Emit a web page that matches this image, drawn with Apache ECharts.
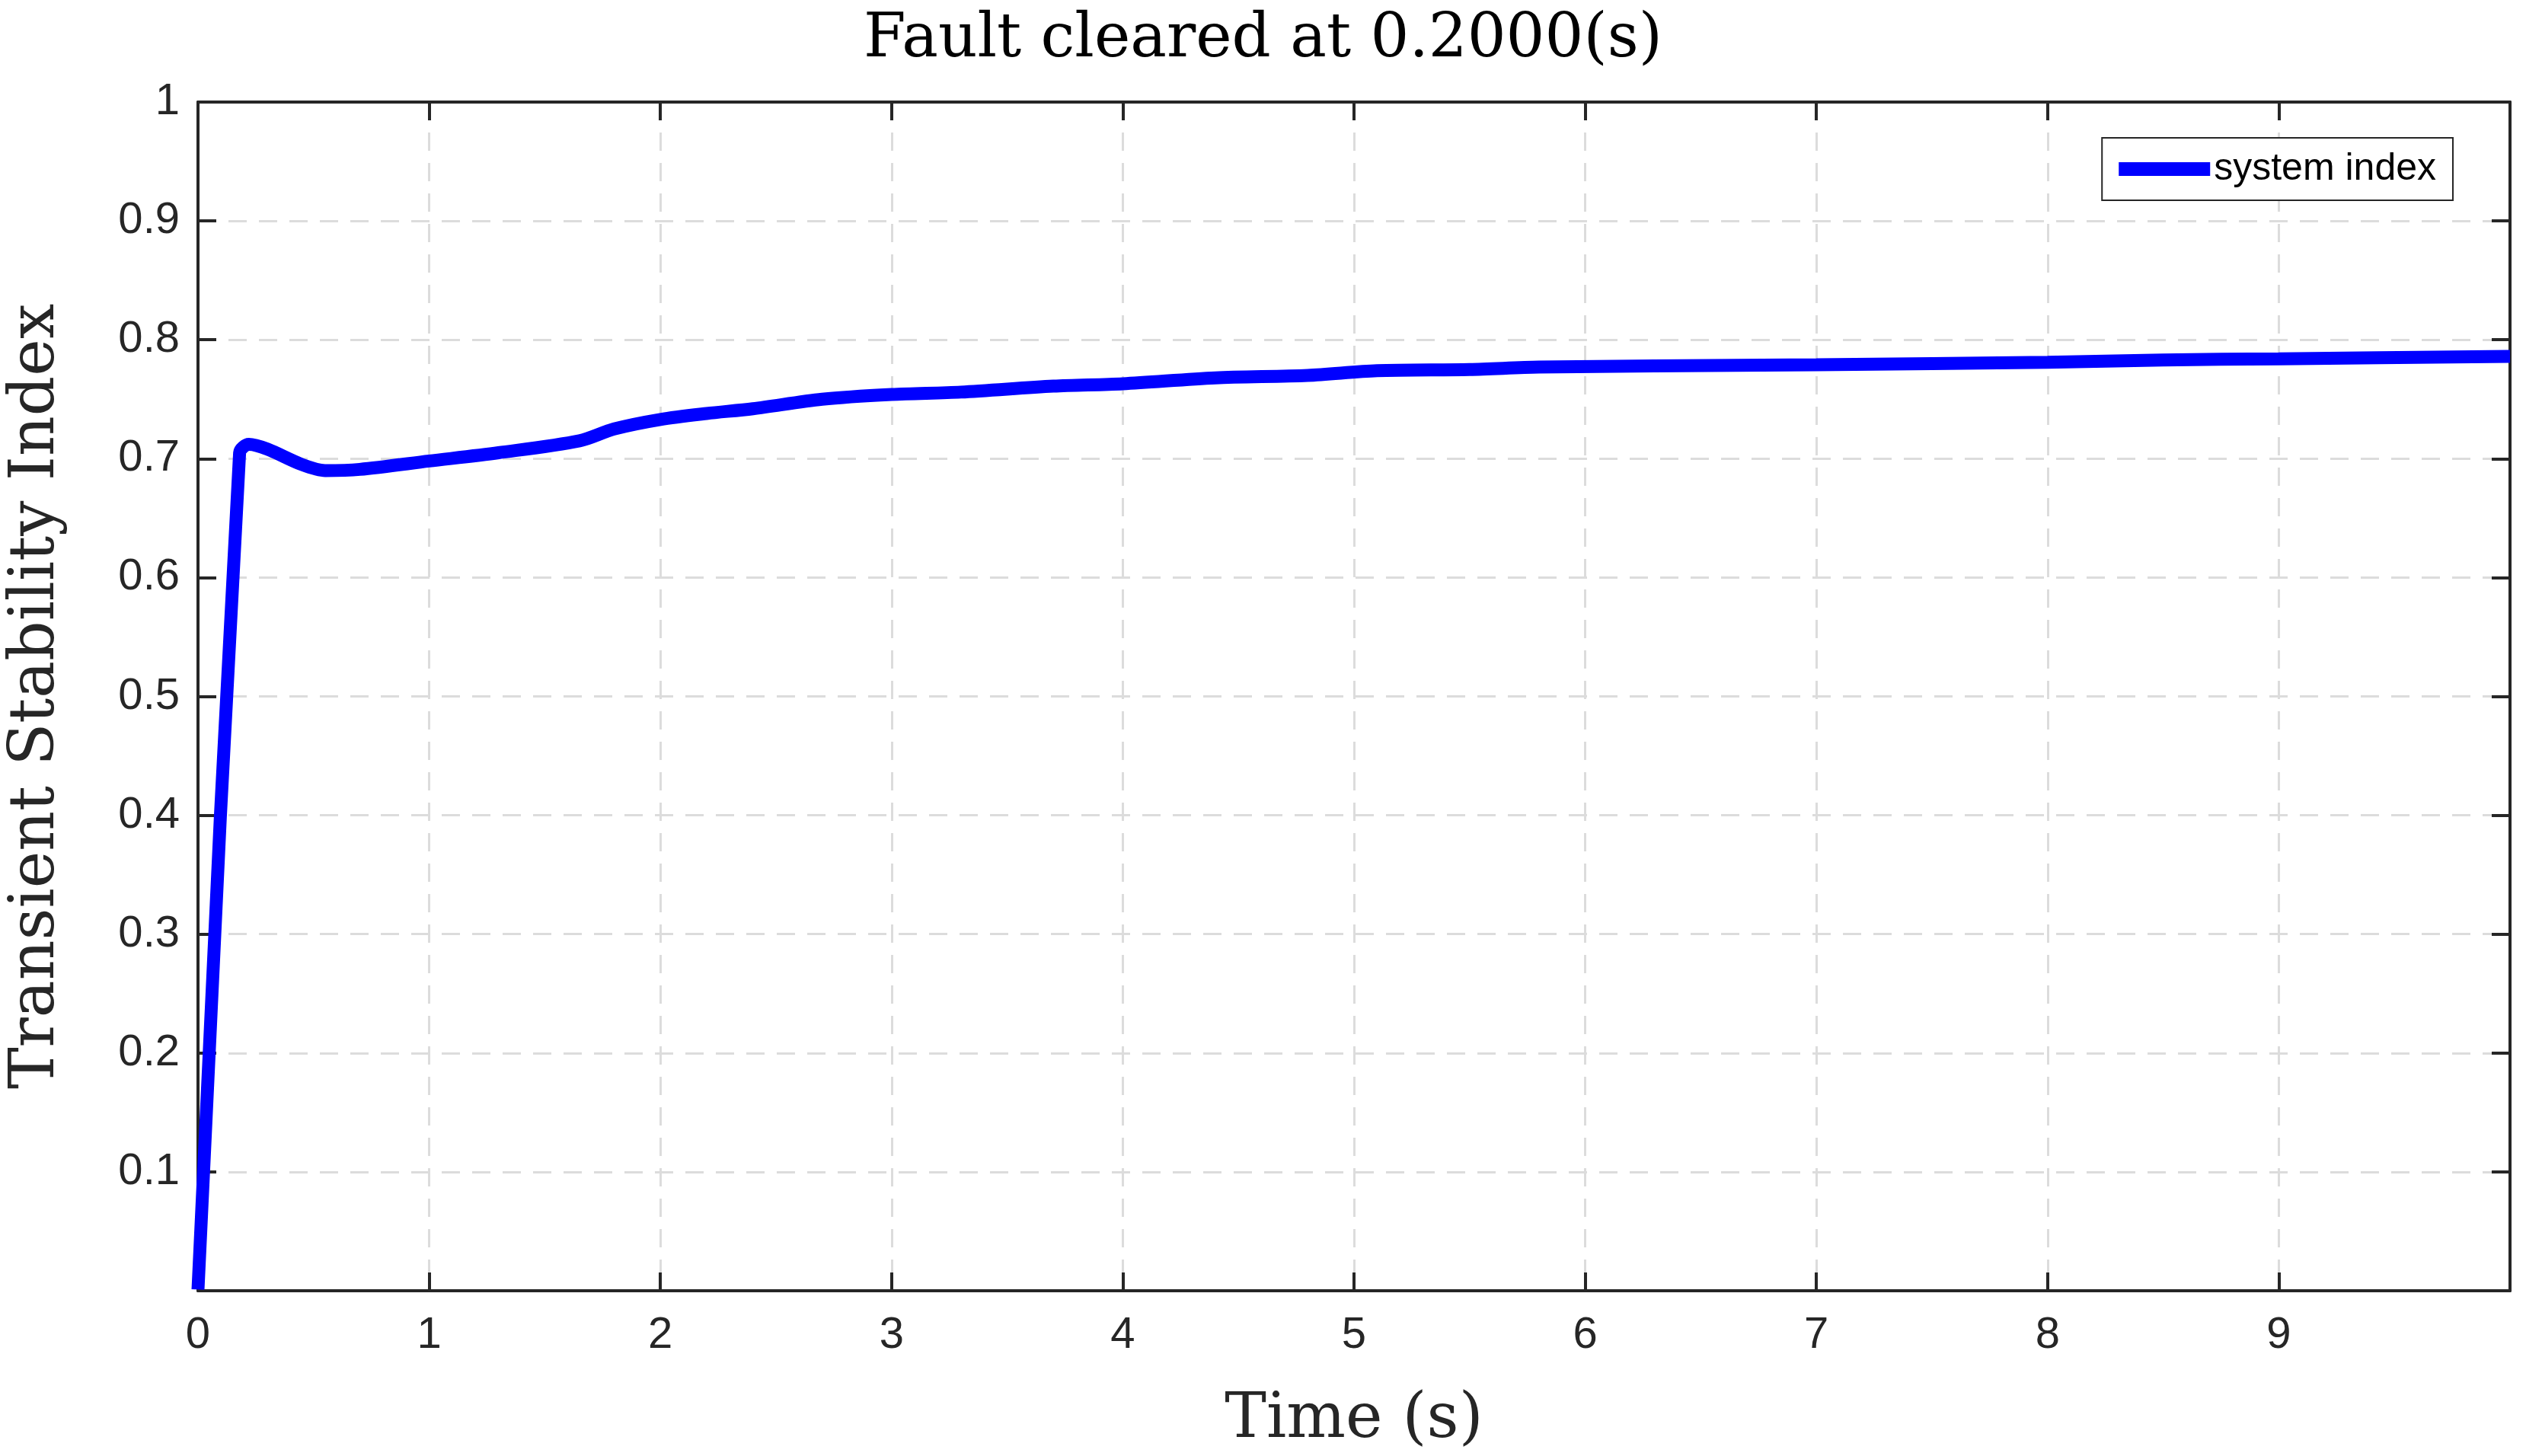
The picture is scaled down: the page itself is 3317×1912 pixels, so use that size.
<!DOCTYPE html>
<html>
<head>
<meta charset="utf-8">
<script src="https://cdn.jsdelivr.net/npm/echarts@6/dist/echarts.min.js"></script>
<style>html,body{margin:0;background:#fff}#chart{width:3317px;height:1912px}</style>
</head>
<body>
<div id="chart"></div>
<script>
var times = [0, 0.18, 0.22, 0.3, 0.45, 0.55, 0.7, 1.0, 1.3, 1.65, 1.8, 2.0, 2.2, 2.4, 2.7, 3.0, 3.3, 3.7, 4.0, 4.4, 4.8, 5.1, 5.5, 5.8, 6.3, 7.0, 8.0, 8.5, 9.0, 10.0];
var index = [0.001, 0.705, 0.712, 0.708, 0.695, 0.69, 0.691, 0.698, 0.705, 0.715, 0.725, 0.733, 0.738, 0.742, 0.75, 0.754, 0.756, 0.761, 0.763, 0.768, 0.77, 0.774, 0.775, 0.777, 0.778, 0.779, 0.781, 0.783, 0.784, 0.786];

var data = [];
for (var i = 0; i < times.length; i++) data.push([times[i], index[i]]);

var myChart = echarts.init(document.getElementById('chart'));
var axisLine = {show: true, onZero: false, lineStyle: {color: '#262626', width: 4}};
var tick = {show: true, inside: true, length: 24, lineStyle: {color: '#262626', width: 4}};
var grid = {show: true, lineStyle: {color: '#dcdcdc', type: [24, 16], width: 3}};
var option = {
    animation: false,
    title: {
        text: 'Fault cleared at 0.2000(s)',
        left: 'center', top: 8,
        textStyle: {fontFamily: 'DejaVu Serif', fontWeight: 'normal', fontSize: 80, color: '#000'}
    },
    legend: {
        right: 96, top: 181,
        orient: 'vertical',
        backgroundColor: '#fff',
        borderColor: '#262626', borderWidth: 2, borderRadius: 0,
        padding: [16, 22],
        itemWidth: 120, itemHeight: 18, itemGap: 0,
        textStyle: {fontFamily: 'Liberation Sans', fontSize: 50, color: '#000'},
        data: [{name: 'system index', icon: 'rect'}]
    },
    grid: {left: 234, right: 21, top: 134, bottom: 211, containLabel: false},
    xAxis: [{
        type: 'value', min: 0, max: 10, interval: 1,
        name: 'Time (s)', nameLocation: 'middle', nameGap: 130,
        nameTextStyle: {fontFamily: 'DejaVu Serif', fontSize: 82, color: '#262626'},
        axisLine: axisLine, axisTick: tick,
        axisLabel: {fontFamily: 'Liberation Sans', fontSize: 58, color: '#262626', margin: 30,
            formatter: function (v) { return v === 10 ? '' : v; }},
        splitLine: grid
    }, {
        type: 'value', min: 0, max: 10, interval: 1, position: 'top',
        axisLine: axisLine, axisTick: tick,
        axisLabel: {show: false}, splitLine: {show: false}
    }],
    yAxis: [{
        type: 'value', min: 0, max: 1, interval: 0.1,
        name: 'Transient Stability Index', nameLocation: 'middle', nameGap: 170,
        nameTextStyle: {fontFamily: 'DejaVu Serif', fontSize: 82, color: '#262626'},
        axisLine: axisLine, axisTick: tick,
        axisLabel: {fontFamily: 'Liberation Sans', fontSize: 58, color: '#262626', margin: 24,
            formatter: function (v) { return v === 0 ? '' : (v === 1 ? '1' : v.toFixed(1)); }},
        splitLine: grid
    }, {
        type: 'value', min: 0, max: 1, interval: 0.1, position: 'right',
        axisLine: axisLine, axisTick: tick,
        axisLabel: {show: false}, splitLine: {show: false}
    }],
    series: [{
        name: 'system index',
        type: 'line',
        data: data,
        smooth: 0.3,
        showSymbol: false,
        color: '#0000ff',
        lineStyle: {width: 17, color: '#0000ff'}
    }]
};
myChart.setOption(option);
</script>
</body>
</html>
